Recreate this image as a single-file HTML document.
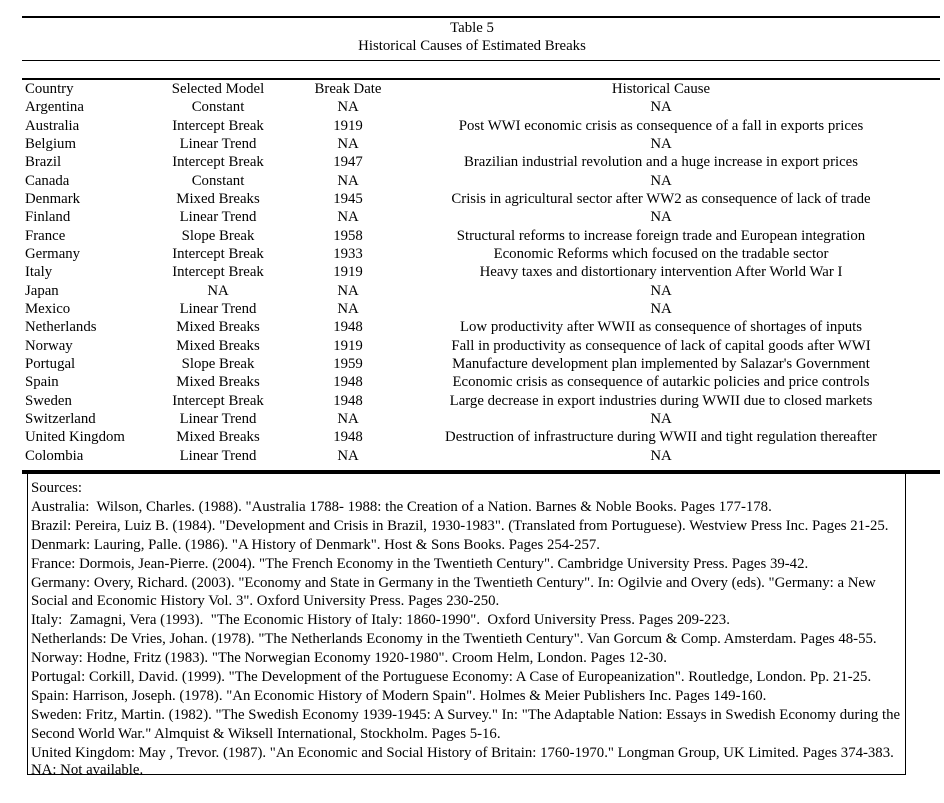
<!DOCTYPE html>
<html><head><meta charset="utf-8"><style>
body{margin:0;width:944px;height:803px;background:#fff;position:relative;font-family:"Liberation Serif",serif;font-size:14.8px;color:#000;overflow:hidden}
.l{position:absolute;background:#000;left:22px;width:918px}
.r{position:absolute;left:0;width:944px;height:18px;line-height:18px;white-space:nowrap}
.r span{position:absolute;top:0}
.c1{left:25px}
.c2{left:118px;width:200px;text-align:center}
.c3{left:298px;width:100px;text-align:center}
.c4{left:400px;width:522px;text-align:center}
.t{position:absolute;left:0;width:944px;text-align:center;line-height:18px}
.box{position:absolute;left:27px;top:474px;width:877px;height:300px;border:1px solid #000;border-top:none}
.s{position:absolute;left:3px;white-space:nowrap;line-height:18px}
</style></head><body>
<div class="l" style="top:16px;height:2px"></div>
<div class="t" style="top:19px">Table 5</div>
<div class="t" style="top:37px">Historical Causes of Estimated Breaks</div>
<div class="l" style="top:60px;height:1px"></div>
<div class="l" style="top:78px;height:2px"></div>
<div class="r" style="top:80px"><span class="c1">Country</span><span class="c2">Selected Model</span><span class="c3">Break Date</span><span class="c4">Historical Cause</span></div>
<div class="r" style="top:98px"><span class="c1">Argentina</span><span class="c2">Constant</span><span class="c3">NA</span><span class="c4">NA</span></div>
<div class="r" style="top:117px"><span class="c1">Australia</span><span class="c2">Intercept Break</span><span class="c3">1919</span><span class="c4">Post WWI economic crisis as consequence of a fall in exports prices</span></div>
<div class="r" style="top:135px"><span class="c1">Belgium</span><span class="c2">Linear Trend</span><span class="c3">NA</span><span class="c4">NA</span></div>
<div class="r" style="top:153px"><span class="c1">Brazil</span><span class="c2">Intercept Break</span><span class="c3">1947</span><span class="c4">Brazilian industrial revolution and a huge increase in export prices</span></div>
<div class="r" style="top:172px"><span class="c1">Canada</span><span class="c2">Constant</span><span class="c3">NA</span><span class="c4">NA</span></div>
<div class="r" style="top:190px"><span class="c1">Denmark</span><span class="c2">Mixed Breaks</span><span class="c3">1945</span><span class="c4">Crisis in agricultural sector after WW2 as consequence of lack of trade</span></div>
<div class="r" style="top:208px"><span class="c1">Finland</span><span class="c2">Linear Trend</span><span class="c3">NA</span><span class="c4">NA</span></div>
<div class="r" style="top:227px"><span class="c1">France</span><span class="c2">Slope Break</span><span class="c3">1958</span><span class="c4">Structural reforms to increase foreign trade and European integration</span></div>
<div class="r" style="top:245px"><span class="c1">Germany</span><span class="c2">Intercept Break</span><span class="c3">1933</span><span class="c4">Economic Reforms which focused on the tradable sector</span></div>
<div class="r" style="top:263px"><span class="c1">Italy</span><span class="c2">Intercept Break</span><span class="c3">1919</span><span class="c4">Heavy taxes and distortionary intervention After World War I</span></div>
<div class="r" style="top:282px"><span class="c1">Japan</span><span class="c2">NA</span><span class="c3">NA</span><span class="c4">NA</span></div>
<div class="r" style="top:300px"><span class="c1">Mexico</span><span class="c2">Linear Trend</span><span class="c3">NA</span><span class="c4">NA</span></div>
<div class="r" style="top:318px"><span class="c1">Netherlands</span><span class="c2">Mixed Breaks</span><span class="c3">1948</span><span class="c4">Low productivity after WWII as consequence of shortages of inputs</span></div>
<div class="r" style="top:337px"><span class="c1">Norway</span><span class="c2">Mixed Breaks</span><span class="c3">1919</span><span class="c4">Fall in productivity as consequence of lack of capital goods after WWI</span></div>
<div class="r" style="top:355px"><span class="c1">Portugal</span><span class="c2">Slope Break</span><span class="c3">1959</span><span class="c4">Manufacture development plan implemented by Salazar's Government</span></div>
<div class="r" style="top:373px"><span class="c1">Spain</span><span class="c2">Mixed Breaks</span><span class="c3">1948</span><span class="c4">Economic crisis as consequence of autarkic policies and price controls</span></div>
<div class="r" style="top:392px"><span class="c1">Sweden</span><span class="c2">Intercept Break</span><span class="c3">1948</span><span class="c4">Large decrease in export industries during WWII due to closed markets</span></div>
<div class="r" style="top:410px"><span class="c1">Switzerland</span><span class="c2">Linear Trend</span><span class="c3">NA</span><span class="c4">NA</span></div>
<div class="r" style="top:428px"><span class="c1">United Kingdom</span><span class="c2">Mixed Breaks</span><span class="c3">1948</span><span class="c4">Destruction of infrastructure during WWII and tight regulation thereafter</span></div>
<div class="r" style="top:447px"><span class="c1">Colombia</span><span class="c2">Linear Trend</span><span class="c3">NA</span><span class="c4">NA</span></div>
<div class="l" style="top:470px;height:4px"></div>
<div class="box">
<div class="s" style="top:5px">Sources:</div>
<div class="s" style="top:24px">Australia:&nbsp; Wilson, Charles. (1988). "Australia 1788- 1988: the Creation of a Nation. Barnes &amp; Noble Books. Pages 177-178.</div>
<div class="s" style="top:43px">Brazil: Pereira, Luiz B. (1984). "Development and Crisis in Brazil, 1930-1983". (Translated from Portuguese). Westview Press Inc. Pages 21-25.</div>
<div class="s" style="top:62px">Denmark: Lauring, Palle. (1986). "A History of Denmark". Host &amp; Sons Books. Pages 254-257.</div>
<div class="s" style="top:81px">France: Dormois, Jean-Pierre. (2004). "The French Economy in the Twentieth Century". Cambridge University Press. Pages 39-42.</div>
<div class="s" style="top:100px">Germany: Overy, Richard. (2003). "Economy and State in Germany in the Twentieth Century". In: Ogilvie and Overy (eds). "Germany: a New</div>
<div class="s" style="top:118px">Social and Economic History Vol. 3". Oxford University Press. Pages 230-250.</div>
<div class="s" style="top:137px">Italy:&nbsp; Zamagni, Vera (1993).&nbsp; "The Economic History of Italy: 1860-1990".&nbsp; Oxford University Press. Pages 209-223.</div>
<div class="s" style="top:156px">Netherlands: De Vries, Johan. (1978). "The Netherlands Economy in the Twentieth Century". Van Gorcum &amp; Comp. Amsterdam. Pages 48-55.</div>
<div class="s" style="top:175px">Norway: Hodne, Fritz (1983). "The Norwegian Economy 1920-1980". Croom Helm, London. Pages 12-30.</div>
<div class="s" style="top:194px">Portugal: Corkill, David. (1999). "The Development of the Portuguese Economy: A Case of Europeanization". Routledge, London. Pp. 21-25.</div>
<div class="s" style="top:213px">Spain: Harrison, Joseph. (1978). "An Economic History of Modern Spain". Holmes &amp; Meier Publishers Inc. Pages 149-160.</div>
<div class="s" style="top:232px">Sweden: Fritz, Martin. (1982). "The Swedish Economy 1939-1945: A Survey." In: "The Adaptable Nation: Essays in Swedish Economy during the</div>
<div class="s" style="top:251px">Second World War." Almquist &amp; Wiksell International, Stockholm. Pages 5-16.</div>
<div class="s" style="top:270px">United Kingdom: May , Trevor. (1987). "An Economic and Social History of Britain: 1760-1970." Longman Group, UK Limited. Pages 374-383.</div>
<div class="s" style="top:287px">NA: Not available.</div>
</div>
</body></html>
